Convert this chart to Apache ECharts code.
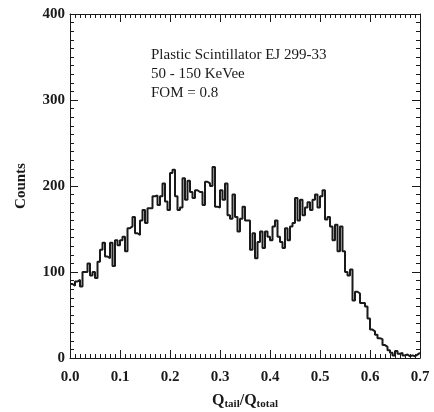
<!DOCTYPE html>
<html>
<head>
<meta charset="utf-8">
<script src="https://cdn.jsdelivr.net/npm/echarts@6/dist/echarts.min.js"></script>
<style>
  html, body { margin: 0; padding: 0; background: #fff; }
  #chart { width: 434px; height: 412px; }
</style>
</head>
<body>
<div id="chart"></div>
<script>
// histogram bins: left edge starts at 0, width 0.005
const binStart = 0;
const binWidth = 0.005;
const counts = [
  86, 84, 89, 91, 83, 100, 100, 110, 96, 100,
  93, 112, 126, 134, 118, 116, 134, 107, 137, 131,
  137, 141, 124, 151, 153, 164, 145, 143, 160, 172,
  157, 174, 174, 188, 189, 178, 188, 203, 182, 172,
  215, 219, 188, 172, 175, 209, 184, 206, 193, 186,
  195, 193, 193, 178, 205, 203, 200, 222, 176, 175,
  195, 184, 203, 166, 162, 190, 164, 147, 162, 176,
  160, 160, 126, 145, 116, 135, 147, 128, 147, 141,
  137, 153, 160, 141, 135, 128, 151, 137, 153, 157,
  186, 160, 184, 166, 175, 181, 172, 184, 190, 175,
  188, 195, 161, 164, 153, 137, 155, 124, 153, 124,
  100, 96, 103, 67, 77, 75, 64, 64, 60, 46,
  33, 31, 27, 23, 22, 15, 13, 9, 6, 3,
  8, 5, 6, 3, 4, 2, 3, 2, 4, 6
];
const xTicks = [0, 0.1, 0.2, 0.3, 0.4, 0.5, 0.6, 0.7];
const yTicks = [0, 100, 200, 300, 400];
const notes = ['Plastic Scintillator EJ 299-33', '50 - 150 KeVee', 'FOM = 0.8'];

document.addEventListener('DOMContentLoaded', function () {
  const chart = echarts.init(document.getElementById('chart'));

  const points = counts.map(function (c, i) {
    return [binStart + i * binWidth, c];
  });
  points.push([binStart + counts.length * binWidth, counts[counts.length - 1]]);

  const serif = '"Liberation Serif", "DejaVu Serif", serif';
  const ink = '#1a1a1a';

  const tickStyle = {
    axisLine: { show: true, onZero: false, lineStyle: { color: ink, width: 1 } },
    axisTick: { show: true, inside: true, length: 8, lineStyle: { color: ink } },
    minorTick: { show: true, splitNumber: 10, length: 4, lineStyle: { color: ink } },
    splitLine: { show: false }
  };

  const xBase = Object.assign({
    type: 'value',
    min: xTicks[0],
    max: xTicks[xTicks.length - 1],
    interval: 0.1
  }, tickStyle);
  const yBase = Object.assign({
    type: 'value',
    min: yTicks[0],
    max: yTicks[yTicks.length - 1],
    interval: 100
  }, tickStyle);

  const option = {
    animation: false,
    backgroundColor: '#fff',
    grid: { left: 70, right: 14, top: 14, bottom: 54, outerBoundsMode: 'none', containLabel: false },
    xAxis: [
      Object.assign({}, xBase, {
        position: 'bottom',
        axisLabel: {
          margin: 12,
          fontFamily: serif, fontWeight: 'bold', fontSize: 15, color: ink,
          formatter: function (v) { return v.toFixed(1); }
        },
        name: '{q|Q}{s|tail}{q|/Q}{s|total}',
        nameLocation: 'middle',
        nameGap: 33,
        nameTextStyle: {
          rich: {
            q: { fontFamily: serif, fontWeight: 'bold', fontSize: 16, color: ink },
            s: { fontFamily: serif, fontWeight: 'bold', fontSize: 11, color: ink, padding: [8, 0, 0, 0] }
          }
        }
      }),
      Object.assign({}, xBase, { position: 'top', axisLabel: { show: false } })
    ],
    yAxis: [
      Object.assign({}, yBase, {
        position: 'left',
        axisLabel: {
          margin: 5,
          fontFamily: serif, fontWeight: 'bold', fontSize: 15, color: ink
        },
        name: 'Counts',
        nameLocation: 'middle',
        nameGap: 41,
        nameTextStyle: { fontFamily: serif, fontWeight: 'bold', fontSize: 15, color: ink }
      }),
      Object.assign({}, yBase, { position: 'right', axisLabel: { show: false } })
    ],
    graphic: notes.map(function (t, i) {
      return {
        type: 'text',
        left: 151,
        top: 48 + i * 19,
        style: { text: t, font: '15px ' + serif, fill: ink }
      };
    }),
    series: [{
      type: 'line',
      step: 'end',
      data: points,
      showSymbol: false,
      lineStyle: { color: ink, width: 2 }
    }]
  };

  chart.setOption(option);
});
</script>
</body>
</html>
